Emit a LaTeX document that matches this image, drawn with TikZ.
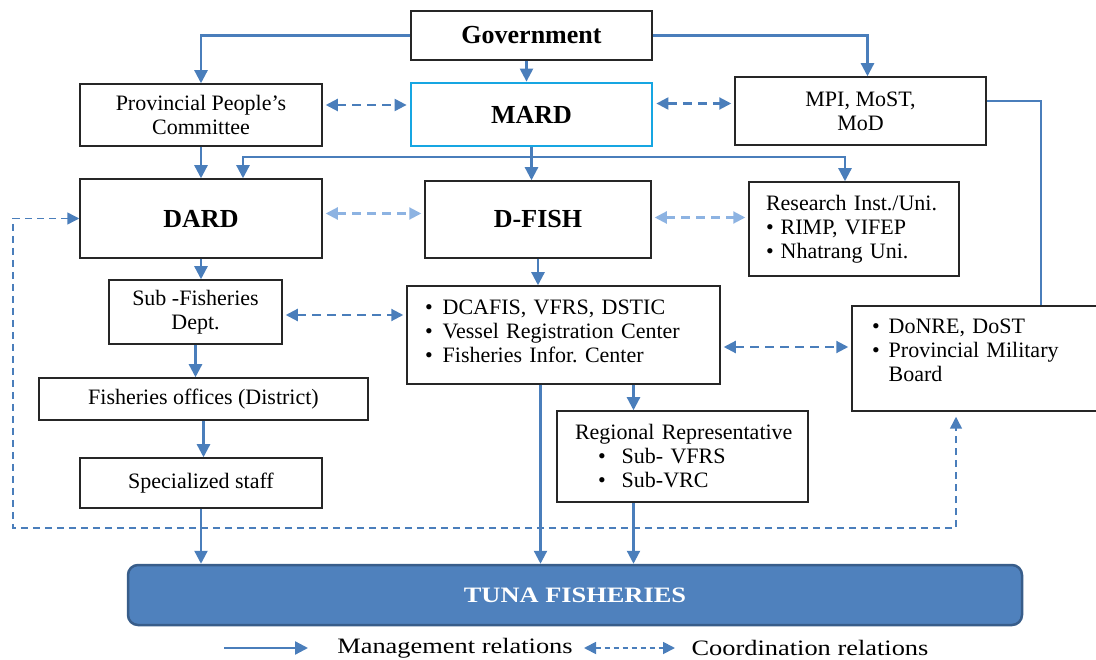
\documentclass[tikz,border=0pt]{standalone}
\usepackage{fontspec}
\setmainfont{Liberation Serif}
\newfontfamily\widefont[FakeStretch=1.2]{Liberation Serif}
\usetikzlibrary{arrows.meta,calc}
\frenchspacing

\definecolor{linkblue}{RGB}{74,126,187}
\definecolor{lightblue}{RGB}{141,179,226}
\definecolor{mardcyan}{RGB}{22,166,226}
\definecolor{tunafill}{RGB}{79,129,189}
\definecolor{tunaedge}{RGB}{56,93,138}

\tikzset{
  box/.style={draw=black!85, line width=1.5pt, fill=white, inner sep=0pt, font=\fontsize{22}{24}\selectfont},
  headbox/.style={box, font=\fontsize{26}{28}\selectfont\bfseries},
  legend/.style={inner sep=0pt, font=\widefont\fontsize{22}{24}\selectfont},
  mgmt/.style={draw=linkblue, line width=2.3pt, -{Triangle[length=13pt,width=13pt]}},
  link/.style={draw=linkblue, line width=1.5pt},
  coord/.style={draw=linkblue, line width=2.1pt, dash pattern=on 9pt off 6pt,
    {Triangle[length=12pt,width=12pt]}-{Triangle[length=12pt,width=12pt]}, shorten <=3pt, shorten >=3pt},
  coordlight/.style={coord, draw=lightblue},
  fback/.style={draw=linkblue, line width=1.5pt, dash pattern=on 7pt off 5pt,
    {Triangle[length=12pt,width=12pt]}-{Triangle[length=12pt,width=12pt]}, shorten >=5pt}
}

\begin{document}
\begin{tikzpicture}[x=1pt,y=-1pt]
\useasboundingbox (0,0) rectangle (1096,660);

\node[headbox, minimum width=241pt, minimum height=49pt] (gov) at (531.5,35.5) {Government};
\node[box, align=center, minimum width=242pt, minimum height=62pt] (ppc) at (201,115) {Provincial People's\\Committee};
\node[headbox, draw=mardcyan, line width=2.8pt, minimum width=241pt, minimum height=63pt] (mard) at (531.5,114.5) {MARD};
\node[box, align=center, minimum width=251pt, minimum height=68pt] (mpi) at (860.5,111) {MPI, MoST,\\MoD};

\node[headbox, minimum width=242pt, minimum height=79pt] (dard) at (201,218.5) {DARD};
\node[headbox, minimum width=226pt, minimum height=77pt] (dfish) at (538,219.5) {D-FISH};
\node[box, text width=176pt, align=left, minimum width=210pt, minimum height=94pt] (res) at (854,229)
  {Research Inst./Uni.\\\textbullet\hspace{7pt}RIMP, VIFEP\\\textbullet\hspace{7pt}Nhatrang Uni.};

\node[box, align=center, minimum width=173pt, minimum height=64pt] (sub) at (195.5,312) {Sub -Fisheries\\Dept.};
\node[box, text width=277pt, align=left, minimum width=313pt, minimum height=98pt] (dcafis) at (563.5,335)
  {\textbullet\hspace{10pt}DCAFIS, VFRS, DSTIC\\\textbullet\hspace{10pt}Vessel Registration Center\\\textbullet\hspace{10pt}Fisheries Infor. Center\\[-16pt]\mbox{}};
\node[box, text width=208pt, align=left, minimum width=248pt, minimum height=105pt] (donre) at (976,358.5)
  {\textbullet\hspace{9pt}DoNRE, DoST\\\textbullet\hspace{9pt}Provincial Military\\\hphantom{\textbullet}\hspace*{9pt}Board\\[-8pt]\mbox{}};

\node[box, minimum width=329pt, minimum height=42pt] (fo) at (203.5,399) {Fisheries offices (District)};
\node[box, minimum width=242pt, minimum height=50pt] (spec) at (201,483) {Specialized staff};
\node[box, text width=235pt, align=left, minimum width=251pt, minimum height=91pt] (reg) at (682.5,456.5)
  {\hspace*{10pt}Regional Representative\\\hspace*{33pt}\textbullet\hspace{16pt}Sub- VFRS\\\hspace*{33pt}\textbullet\hspace{16pt}Sub-VRC};

\node[draw=tunaedge, fill=tunafill, line width=2.5pt, rounded corners=10pt, minimum width=894pt, minimum height=60pt,
  text=white, font=\widefont\fontsize{22}{24}\selectfont\bfseries] (tuna) at (575,595) {TUNA FISHERIES};

\draw[mgmt] (gov.west) -| (ppc.north);
\draw[mgmt] ([xshift=-5pt]gov.south) -- ([xshift=-5pt]mard.north);
\draw[mgmt] (gov.east) -| ([xshift=7pt]mpi.north);
\draw[coord] ([yshift=10pt]ppc.east) -- ([yshift=10pt]ppc.east -| mard.west);
\draw[coord] ([yshift=11pt]mard.east) -- ([yshift=11pt]mard.east -| mpi.west);

\foreach \a/\b in {ppc/dard, dard/sub, sub/fo, fo/spec, dfish/dcafis, spec/tuna}
{
    \draw[mgmt] (\a.south) -- (\a.south |- \b.north);
}
\draw[mgmt] (mard.south) -- (mard.south |- dfish.north);
\coordinate (split) at (mard.south |- 0,157);
\draw[mgmt] (split) -| ([xshift=42pt]dard.north);
\draw[mgmt] (split) -| ([xshift=-9pt]res.north);
\draw[link] ([yshift=10pt]mpi.east) -| ([xshift=65pt]donre.north);

\draw[coordlight] ([yshift=5pt]dard.east) -- ([yshift=5pt]dard.east -| dfish.west);
\draw[coordlight] ([yshift=2pt]dfish.east) -- ([yshift=2pt]dfish.east -| res.west);
\draw[coord] ([yshift=-3pt]sub.east) -- ([yshift=-3pt]sub.east -| dcafis.west);
\draw[coord] ([yshift=-12pt]dcafis.east) -- ([yshift=-12pt]dcafis.east -| donre.west);

\draw[mgmt] ([xshift=70pt]dcafis.south) -- ([xshift=70pt]dcafis.south |- reg.north);
\draw[mgmt] ([xshift=-23pt]dcafis.south) -- ([xshift=-23pt]dcafis.south |- tuna.north);
\draw[mgmt] ([xshift=-49pt]reg.south) -- ([xshift=-49pt]reg.south |- tuna.north);

\coordinate (fbl) at (13,528);
\coordinate (fbr) at (956,528);
\draw[fback] (dard.west) -- (dard.west -| fbl) -- (fbl) -- (fbr) -- (fbr |- donre.south);

\coordinate (mg1) at (224,648);
\coordinate (mg2) at (308,648);
\draw[mgmt] (mg1) -- (mg2);
\node[legend] (mglabel) at (455,648) {Management relations};
\coordinate (co1) at (584,648);
\coordinate (co2) at (675,648);
\draw[coord, line width=1.8pt, dash pattern=on 5pt off 4pt, shorten <=0pt, shorten >=0pt] (co1) -- (co2);
\node[legend] (colabel) at (810,648) {Coordination relations};
\end{tikzpicture}
\end{document}
